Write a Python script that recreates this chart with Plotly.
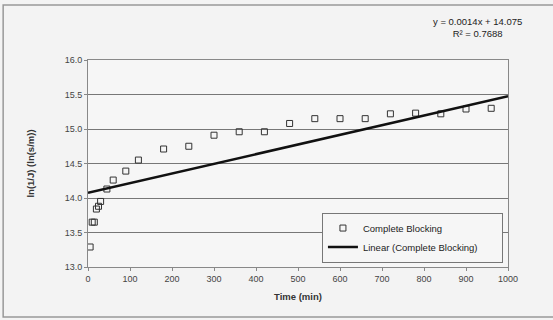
import plotly.graph_objects as go

time_min = [5, 10, 15, 20, 25, 30, 45, 60, 90, 120, 180, 240, 300, 360, 420,
            480, 540, 600, 660, 720, 780, 840, 900, 960]
ln_inv_j = [13.29, 13.65, 13.65, 13.84, 13.88, 13.95, 14.13, 14.26, 14.39, 14.55,
            14.71, 14.75, 14.91, 14.96, 14.96, 15.08, 15.15, 15.15, 15.15, 15.22,
            15.23, 15.22, 15.29, 15.30]
trend_slope = 0.0014
trend_intercept = 14.075
trend_x = [0, 1000]
trend_y = [trend_slope * x + trend_intercept for x in trend_x]

x_ticks = [0, 100, 200, 300, 400, 500, 600, 700, 800, 900, 1000]
y_ticks = [13.0, 13.5, 14.0, 14.5, 15.0, 15.5, 16.0]

FONT = "Liberation Sans, Arial, sans-serif"
PAD = "\u00a0" * 7  # invisible padding to widen the legend box like the original

fig = go.Figure()
fig.add_trace(go.Scatter(
    x=time_min, y=ln_inv_j, mode="markers", name="Complete Blocking",
    marker=dict(symbol="square-open", size=6, color="#333333",
                line=dict(width=1, color="#333333")),
))
fig.add_trace(go.Scatter(
    x=trend_x, y=trend_y, mode="lines", name="Linear (Complete Blocking)" + PAD,
    line=dict(color="#111111", width=2.5),
))

fig.update_layout(
    width=553, height=320,
    margin=dict(l=88, r=45, t=60, b=53),
    paper_bgcolor="#f3f3f3",
    plot_bgcolor="#f6f6f6",
    font=dict(family=FONT, size=9, color="#333333"),
    showlegend=True,
    legend=dict(
        x=0.557, y=0.263, xanchor="left", yanchor="top",
        bgcolor="#f6f6f6", bordercolor="#777777", borderwidth=1,
        font=dict(size=9.5, color="#222222"),
    ),
    xaxis=dict(
        range=[0, 1000], tickvals=x_ticks, ticktext=[str(v) for v in x_ticks],
        showgrid=False, zeroline=False, showline=True, linecolor="#888888",
        linewidth=1, mirror=True, ticks="outside", ticklen=3, tickcolor="#888888",
        title=dict(text="<b>Time (min)</b>", font=dict(size=9.5, color="#333333"),
                   standoff=10),
        tickfont=dict(size=9, color="#444444"),
    ),
    yaxis=dict(
        range=[13.0, 16.0], tickvals=y_ticks, ticktext=[f"{v:.1f}" for v in y_ticks],
        showgrid=True, gridcolor="#777777", gridwidth=1, zeroline=False,
        showline=True, linecolor="#888888", linewidth=1, mirror=True,
        ticks="outside", ticklen=3, tickcolor="#888888",
        title=dict(text="<b>ln(1/J) (ln(s/m))</b>", font=dict(size=9.5, color="#333333"),
                   standoff=28),
        tickfont=dict(size=9, color="#444444"),
    ),
    shapes=[dict(type="rect", xref="paper", yref="paper", x0=-0.202, x1=1.124,
                 y0=-0.242, y1=1.266, line=dict(color="#999999", width=1.5))],
    annotations=[dict(
        text=f"y = {trend_slope}x + {trend_intercept}<br>R² = 0.7688",
        xref="paper", yref="paper", x=0.927, y=1.155, xanchor="center", yanchor="middle",
        showarrow=False, font=dict(size=9.5, color="#222222"),
    )],
)

fig.write_html("out.html")
